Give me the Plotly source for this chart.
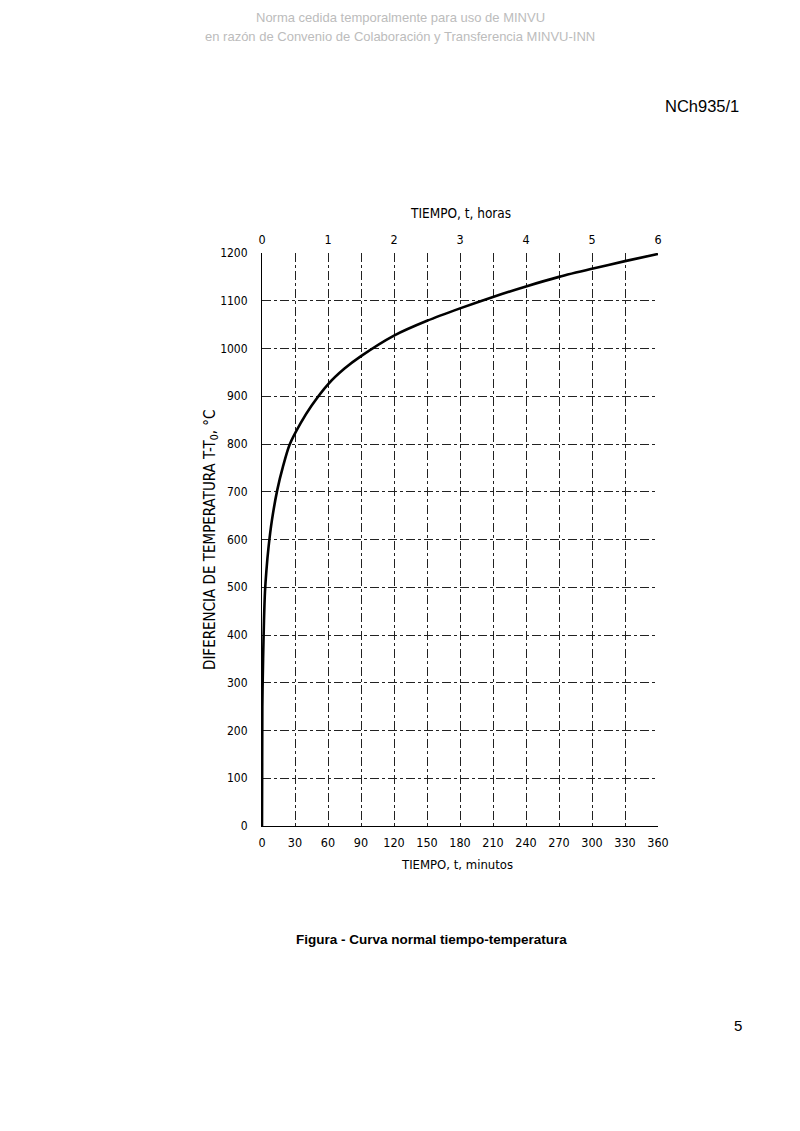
import plotly.graph_objects as go

# Data
t_min = [0, 0.3, 1.0, 1.8, 2.7, 4.0, 6.0, 9.0, 14, 19, 25, 35, 45, 60,
         75, 90, 120, 150, 180, 210, 240, 270, 300, 330, 360]
temp = [0, 250, 350, 430, 490, 535, 585, 640, 705, 752, 798, 843, 880, 925,
        958, 984, 1027, 1058, 1084, 1108, 1130, 1150, 1167, 1183, 1198]

x_ticks = [0, 30, 60, 90, 120, 150, 180, 210, 240, 270, 300, 330, 360]
x_ticklabels = [str(v) for v in x_ticks]
y_ticks = list(range(0, 1300, 100))
hour_ticks = [0, 1, 2, 3, 4, 5, 6]
t_hours = [v / 60 for v in t_min]

OFF = 8  # browser body margin
W, H = 800 - OFF, 1131 - OFF
L, R, T, B = 262 - OFF, 658 - OFF, 253 - OFF, 826 - OFF


def px(x, y):
    x -= OFF
    y -= OFF
    return (x - L) / (R - L), (B - y) / (B - T)


FONT = "Liberation Sans, Arial, sans-serif"
NARROW = "Liberation Sans Narrow, Arial Narrow, DejaVu Sans Condensed, Liberation Sans, sans-serif"

fig = go.Figure()
fig.add_trace(go.Scatter(x=t_min, y=temp, mode="lines",
                         line=dict(color="black", width=2.6, shape="spline", smoothing=0.8),
                         hoverinfo="skip", showlegend=False))
fig.add_trace(go.Scatter(x=t_hours, y=temp, xaxis="x2", mode="lines",
                         line=dict(width=0, color="rgba(0,0,0,0)"),
                         hoverinfo="skip", showlegend=False))

grid = dict(showgrid=True, gridcolor="#222", gridwidth=1, griddash="dashdot")

fig.update_layout(
    width=W, height=H,
    margin=dict(l=L, r=W - R, t=T, b=H - B, pad=0),
    paper_bgcolor="white", plot_bgcolor="white",
    font=dict(family=NARROW, color="black", size=12),
    xaxis=dict(range=[0, 360], tickvals=x_ticks, ticktext=x_ticklabels,
               ticks="", showline=True, linecolor="black", linewidth=1,
               zeroline=False, tickfont=dict(size=12.5, family=NARROW),
               ticklabelstandoff=5, **grid),
    xaxis2=dict(range=[0, 6], overlaying="x", side="top", tickvals=hour_ticks,
                ticks="", showgrid=False, showline=False, zeroline=False,
                tickfont=dict(size=12.5, family=NARROW), ticklabelstandoff=6),
    yaxis=dict(range=[0, 1200], tickvals=y_ticks, ticks="", showline=True,
               linecolor="black", linewidth=1, zeroline=False,
               tickfont=dict(size=12, family=NARROW), ticklabelstandoff=11, **grid),
)

ann = []


def add_text(x, y, text, **kw):
    px_, py_ = px(x, y)
    d = dict(x=px_, y=py_, xref="paper", yref="paper", text=text, showarrow=False,
             xanchor="center", yanchor="middle")
    d.update(kw)
    ann.append(d)


add_text(400, 18, "Norma cedida temporalmente para uso de MINVU",
         font=dict(size=13, color="#bcbcbc", family=FONT))
add_text(400, 36, "en razón de Convenio de Colaboración y Transferencia MINVU-INN",
         font=dict(size=13, color="#bcbcbc", family=FONT))
add_text(741, 106, "NCh935/1", xanchor="right", font=dict(size=16.5, family=FONT))
add_text(460, 213, "TIEMPO, t, horas", font=dict(size=13.5, family=NARROW))
add_text(457, 864, "TIEMPO, t, minutos", font=dict(size=13, family=NARROW))
add_text(210, 540, "DIFERENCIA DE TEMPERATURA T-T<sub>0</sub>, °C", textangle=-90,
         font=dict(size=15, family=NARROW))
add_text(431, 939, "<b>Figura - Curva normal tiempo-temperatura</b>",
         font=dict(size=13.5, family=FONT))
add_text(738, 1025, "5", font=dict(size=15, family=FONT))

fig.update_layout(annotations=ann)
fig.write_html("out.html")
